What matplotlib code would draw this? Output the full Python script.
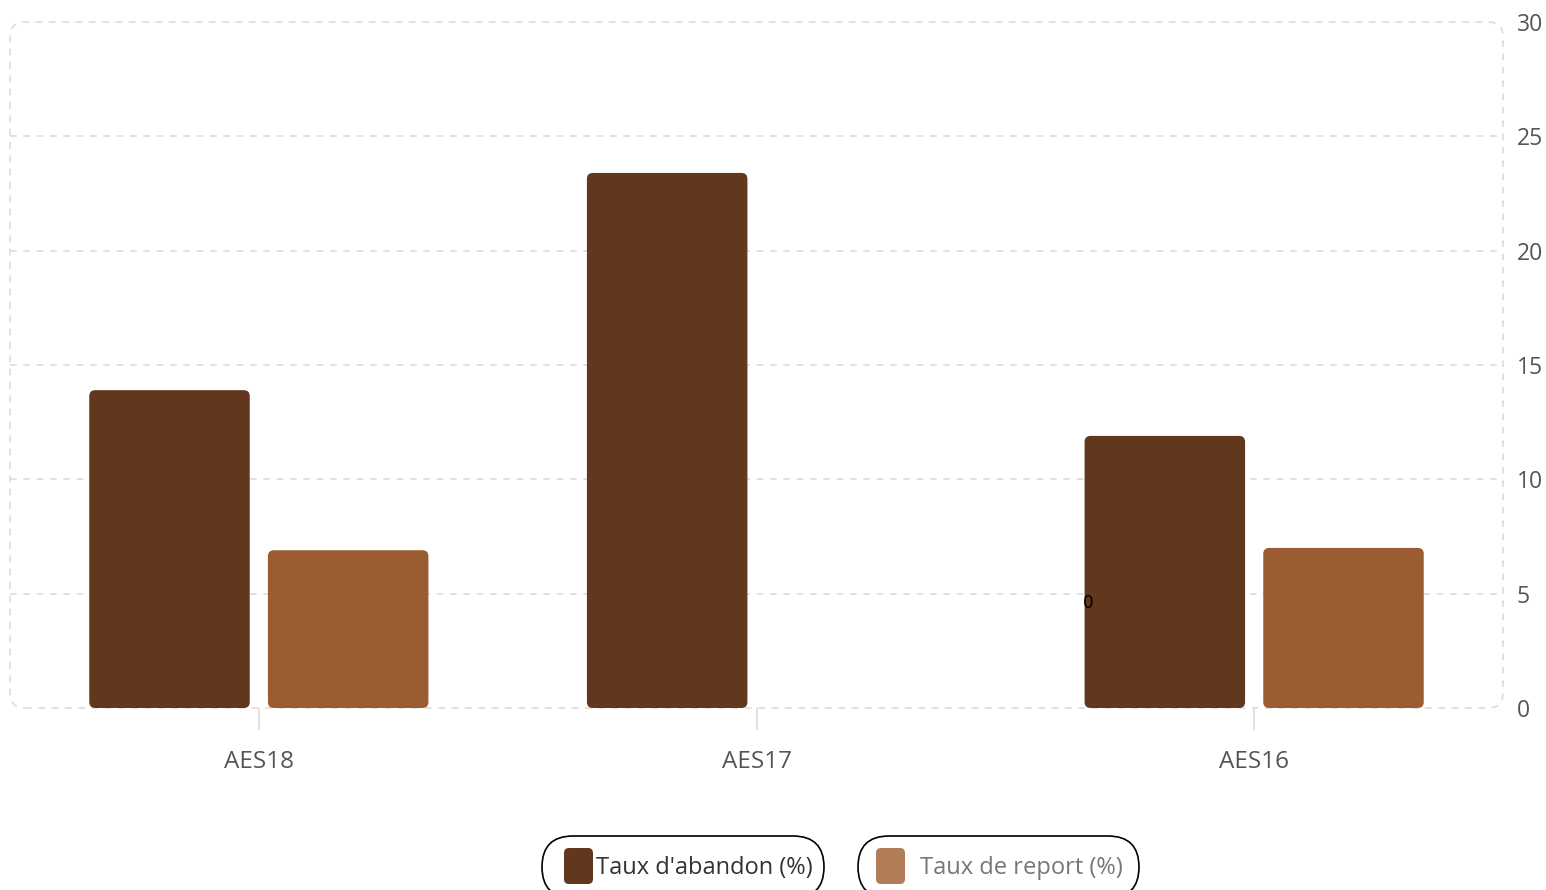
import matplotlib
matplotlib.use("Agg")
import matplotlib.pyplot as plt
from matplotlib.patches import FancyBboxPatch
import numpy as np

categories = ["AES18", "AES17", "AES16"]
abandon = [13.9, 23.4, 11.9]
report = [6.9, None, 7.0]
series_names = ["Taux d'abandon (%)", "Taux de report (%)"]
yticks = [0, 5, 10, 15, 20, 25, 30]
stray_label = "0"

c_abandon = "#61381D"
c_report = "#9B5C32"
c_report_legend = "#B07D58"
grid_c = "#DCDCDC"

plt.rcParams["font.family"] = ["Open Sans", "DejaVu Sans"]

W, H = 1546, 890
fig = plt.figure(figsize=(W / 100, H / 100), dpi=100)
L, R, T, B = 10, 1503, 22, 708
ax = fig.add_axes([L / W, 1 - B / H, (R - L) / W, (B - T) / H])
ax.set_xlim(-0.5, 2.5)
ax.set_ylim(0, 30)

x = np.arange(len(categories))
bw = 0.3225
off = 0.1795

xpp = 3.0 / (R - L)
ypp = 30.0 / (B - T)

def rbar(xc, h, color):
    if h is None:
        return
    bars = ax.bar(xc, h, width=bw, color=color)
    for b in bars:
        b.set_visible(False)
        p = FancyBboxPatch((b.get_x(), b.get_y()), b.get_width(), b.get_height(),
                           boxstyle=f"round,pad=0,rounding_size={6 * xpp}",
                           mutation_aspect=ypp / xpp, fc=color, ec="none", zorder=3)
        ax.add_patch(p)

for i in range(len(categories)):
    rbar(x[i] - off, abandon[i], c_abandon)
    rbar(x[i] + off, report[i], c_report)

for yv in yticks[1:-1]:
    ax.axhline(yv, color=grid_c, lw=1.2, ls=(0, (4, 4)), zorder=1)

for s in ax.spines.values():
    s.set_visible(False)

frame = FancyBboxPatch((0, 0), 1, 1, boxstyle=f"round,pad=0,rounding_size={15 / (R - L)}",
                       mutation_aspect=(R - L) / (B - T), transform=ax.transAxes,
                       fc="none", ec=grid_c, lw=1.2, ls=(0, (4, 4)), zorder=1, clip_on=False)
ax.add_patch(frame)

ax.yaxis.tick_right()
ax.set_yticks(yticks)
ax.set_yticklabels([str(v) for v in yticks], fontsize=16.5, color="#555555")
ax.tick_params(axis="y", length=0, pad=10)
ax.set_xticks(x)
ax.set_xticklabels(categories, fontsize=17.5, color="#555555")
ax.tick_params(axis="x", length=16, color=grid_c, width=1.2, pad=14)

ax.text(1.666, 4.6, stray_label, fontsize=12, color="black", ha="center", va="center",
        family="DejaVu Sans", zorder=5)

tr = fig.dpi_scale_trans
def pill(x0, x1, swatch_x, swatch_c, label, text_x, text_c):
    p = FancyBboxPatch((x0 / 100, (H - 898) / 100), (x1 - x0) / 100, 0.62,
                       boxstyle="round,pad=0,rounding_size=0.31", transform=tr,
                       fc="white", ec="black", lw=1.2, clip_on=False)
    fig.patches.append(p)
    s = FancyBboxPatch((swatch_x / 100, (H - 884) / 100), 0.29, 0.36,
                       boxstyle="round,pad=0,rounding_size=0.05", transform=tr,
                       fc=swatch_c, ec="none")
    fig.patches.append(s)
    fig.text(text_x / W, 1 - 868 / H, label, fontsize=17, color=text_c,
             ha="left", va="center")

pill(542, 824, 564, c_abandon, series_names[0], 596, "#333333")
pill(858, 1139, 876, c_report_legend, series_names[1], 920, "#777777")

fig.savefig("out.png", dpi=100)
